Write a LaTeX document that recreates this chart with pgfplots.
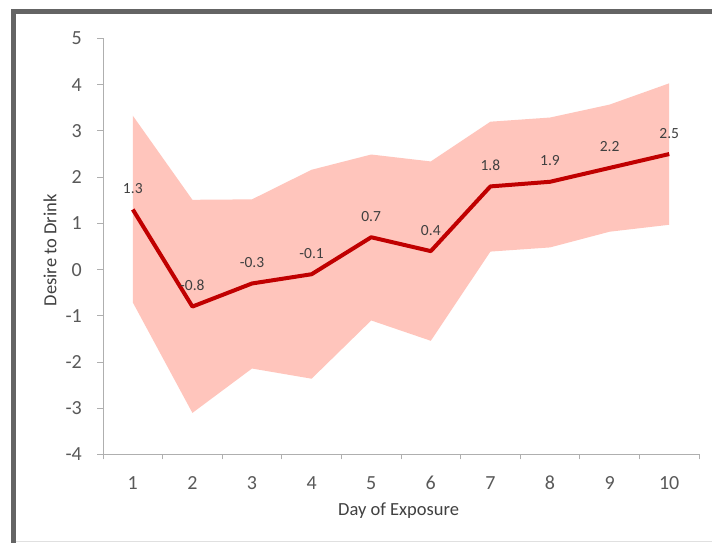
\documentclass[border=0pt]{standalone}
\usepackage{fontspec}
\setmainfont{Carlito}
\usepackage{pgfplots}
\pgfplotsset{compat=1.18}
\definecolor{band}{RGB}{255,197,188}
\definecolor{redline}{RGB}{192,0,0}
\definecolor{ticktext}{RGB}{89,89,89}
\definecolor{labeltext}{RGB}{64,64,64}
\definecolor{axisgray}{RGB}{175,175,175}
\definecolor{framegray}{RGB}{100,100,100}
\begin{document}
\begin{tikzpicture}[x=1pt,y=1pt]
\path[use as bounding box] (0,0) rectangle (712,543);
\fill[white] (0,0) rectangle (712,543);
\draw[framegray, line width=4.5pt] (11,531.5) -- (712,531.5);
\draw[framegray, line width=5pt] (13.5,0) -- (13.5,534);
\draw[black!12, line width=1pt] (16,1) -- (712,1);
\begin{axis}[
  at={(103pt,88.5pt)}, anchor=south west,
  scale only axis, width=596pt, height=416pt,
  xmin=0.5, xmax=10.5, ymin=-4, ymax=5,
  axis lines=left,
  axis line style={axisgray, line width=1pt, -},
  tick align=outside,
  major tick length=6pt, minor tick length=5pt,
  tick style={axisgray, line width=1pt},
  major x tick style={draw=none},
  xtick={1,...,10},
  minor xtick={0.5,1.5,...,10.5},
  ytick={-4,...,5},
  yticklabels={-4,-3,-2,-1,0,1,2,3,4,5},
  xticklabels={1,2,3,4,5,6,7,8,9,10},
  xticklabel style={font=\fontsize{20}{24}\selectfont, text=ticktext, inner sep=0pt, anchor=north, yshift=-15.5pt},
  yticklabel style={font=\fontsize{20}{24}\selectfont, text=ticktext, inner sep=0pt, anchor=east, xshift=-15pt},
  xlabel={Day of Exposure},
  ylabel={Desire to Drink},
  every axis x label/.style={at={(axis description cs:0.496,-0.136)}, anchor=center, font=\fontsize{18.5}{22}\selectfont, text=labeltext},
  every axis y label/.style={at={(axis description cs:-0.0889,0.491)}, anchor=center, rotate=90, font=\fontsize{18.5}{22}\selectfont, text=labeltext},
]
\addplot[fill=band, draw=none] coordinates {
  (1,3.33) (2,1.51) (3,1.52) (4,2.16) (5,2.49) (6,2.34) (7,3.20) (8,3.29) (9,3.57) (10,4.03)
  (10,0.97) (9,0.82) (8,0.48) (7,0.39) (6,-1.54) (5,-1.10) (4,-2.36) (3,-2.14) (2,-3.10) (1,-0.71)
} -- cycle;
\addplot[redline, line width=4pt, line join=round, mark=none,
  nodes near coords, point meta=explicit symbolic,
  nodes near coords align={center},
  every node near coord/.append style={anchor=center, yshift=21pt, font=\fontsize{15.5}{18}\selectfont, text=labeltext}]
  coordinates {
  (1,1.3) [1.3] (2,-0.8) [-0.8] (3,-0.3) [-0.3] (4,-0.1) [-0.1] (5,0.7) [0.7]
  (6,0.4) [0.4] (7,1.8) [1.8] (8,1.9) [1.9] (9,2.2) [2.2] (10,2.5) [2.5]
};
\end{axis}
\end{tikzpicture}
\end{document}
